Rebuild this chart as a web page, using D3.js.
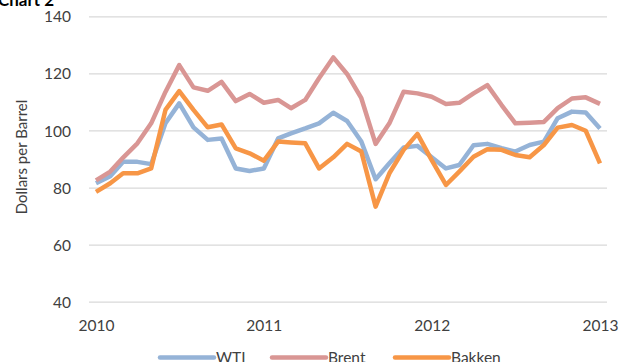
<!DOCTYPE html>
<html><head><meta charset="utf-8">
<script src="https://cdn.jsdelivr.net/npm/d3@7"></script>
<style>
html,body{margin:0;padding:0;background:#fff;}
svg{display:block;font-family:Lato,"Open Sans",sans-serif;}
</style></head>
<body>
<svg id="c" width="619" height="362"></svg>
<script>
const months = ["2010-01","2010-02","2010-03","2010-04","2010-05","2010-06","2010-07","2010-08","2010-09","2010-10","2010-11","2010-12",
"2011-01","2011-02","2011-03","2011-04","2011-05","2011-06","2011-07","2011-08","2011-09","2011-10","2011-11","2011-12",
"2012-01","2012-02","2012-03","2012-04","2012-05","2012-06","2012-07","2012-08","2012-09","2012-10","2012-11","2012-12","2013-01"];
const wti = [81.5,84,89,89,88.2,102.5,109.5,101.1,96.7,97.2,86.7,85.8,86.7,97.2,99,100.7,102.5,106.2,103.3,96.1,82.9,88.5,94,94.6,90.6,86.7,87.9,94.8,95.3,93.8,92.6,94.9,96.1,104.3,106.6,106.3,100.7];
const brent = [82.5,85.6,90.5,95.5,102.5,113.5,122.9,115.1,113.9,117,110.3,112.8,109.7,110.7,107.8,110.7,118.3,125.6,119.8,111.3,95.3,102.5,113.6,113,111.8,109.3,109.7,113,115.9,108.9,102.5,102.7,103,107.8,111.2,111.6,109.3];
const bakken = [78.5,81.5,85,85,86.7,107.2,113.8,107.2,101.1,102.1,93.7,92,89.4,96.1,95.8,95.5,86.7,90.6,95.3,92.6,73.3,85,93.2,98.8,89.6,80.9,85.6,90.8,93.4,93.2,91.4,90.6,94.9,101,101.9,99.9,88.5];
const yTicks = [40,60,80,100,120,140];
const xTickLabels = ["2010","2011","2012","2013"];
const seriesNames = ["WTI","Brent","Bakken"];
const seriesColors = ["#95B3D7","#D99694","#F79646"];

const parse = d3.timeParse("%Y-%m");
const dates = months.map(parse);
const svg = d3.select("#c");

const x = d3.scaleTime().domain([parse("2010-01"), parse("2013-01")]).range([96, 600]);
const y = d3.scaleLinear().domain([40,140]).range([301.7,16.3]);

// gridlines
svg.append("g").selectAll("line").data(yTicks).join("line")
  .attr("x1",89).attr("x2",607)
  .attr("y1",d=>y(d)+0.5).attr("y2",d=>y(d)+0.5)
  .attr("stroke","#D9D9D9").attr("stroke-width",1.2);

// y axis labels
const yAxis = d3.axisLeft(y).tickValues(yTicks).tickSize(0).tickPadding(0);
const gy = svg.append("g").attr("transform","translate(71,0)").call(yAxis);
gy.select(".domain").remove();
gy.selectAll("text").attr("font-size",15.5).attr("fill","#404040").attr("font-family","Lato, sans-serif").attr("dy","0.36em");

// x axis labels
const xAxis = d3.axisBottom(x).tickValues(xTickLabels.map(s=>parse(s+"-01"))).tickFormat((d,i)=>xTickLabels[i]).tickSize(0).tickPadding(0);
const gx = svg.append("g").attr("transform","translate(0,316)").call(xAxis);
gx.select(".domain").remove();
gx.selectAll("text").attr("font-size",15.5).attr("fill","#404040").attr("font-family","Lato, sans-serif").attr("dy","0.95em");

// y title
svg.append("text").attr("transform","translate(27,157) rotate(-90)")
  .attr("text-anchor","middle").attr("font-size",15).attr("fill","#404040")
  .text("Dollars per Barrel");

// title (cut off)
svg.append("text").attr("x",-2).attr("y",6).attr("font-size",17).attr("font-weight","bold").attr("fill","#000").text("Chart 2");

// lines
const line = d3.line().x((d,i)=>x(dates[i])).y(d=>y(d)).curve(d3.curveLinear);
const all = [wti, brent, bakken];
all.forEach((s,k)=>{
  svg.append("path").datum(s).attr("d",line)
    .attr("fill","none").attr("stroke",seriesColors[k]).attr("stroke-width",4.5)
    .attr("stroke-linejoin","round").attr("stroke-linecap","butt");
});

// legend
const legX = [160,272,395];
seriesNames.forEach((n,k)=>{
  svg.append("line").attr("x1",legX[k]).attr("x2",legX[k]+54).attr("y1",357.5).attr("y2",357.5)
    .attr("stroke",seriesColors[k]).attr("stroke-width",4.5).attr("stroke-linecap","round");
  svg.append("text").attr("x",legX[k]+56).attr("y",363).attr("font-size",15.5).attr("fill","#404040").text(n);
});
</script>
</body></html>
